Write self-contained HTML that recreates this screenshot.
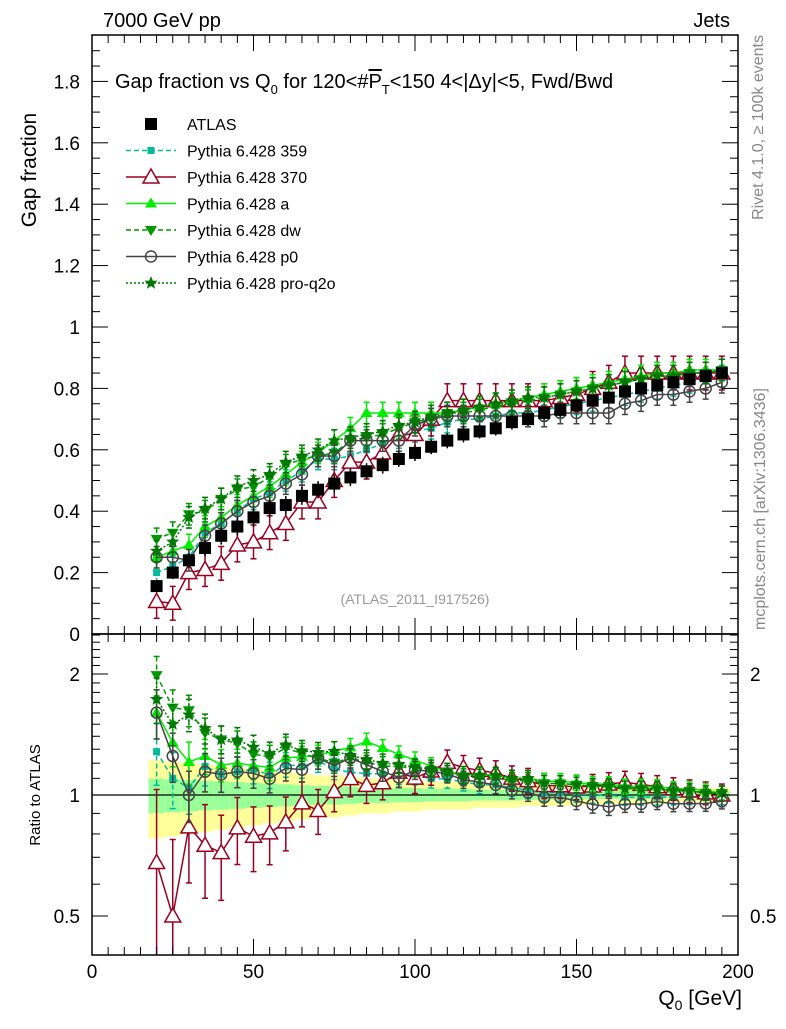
<!DOCTYPE html>
<html><head><meta charset="utf-8"><style>
body{margin:0;background:#fff}
svg{font-family:"Liberation Sans",sans-serif}
</style></head><body>
<svg id="c" width="786" height="1024" viewBox="0 0 786 1024">
<text x="103" y="27" font-size="20">7000 GeV pp</text>
<text x="730" y="27" font-size="20" text-anchor="end">Jets</text>
<text transform="translate(763,35) rotate(-90)" font-size="16" fill="#888" text-anchor="end">Rivet 4.1.0, ≥ 100k events</text>
<text transform="translate(765,630) rotate(-90)" font-size="16" fill="#888">mcplots.cern.ch [arXiv:1306.3436]</text>
<text transform="translate(36,170) rotate(-90)" font-size="21" text-anchor="middle">Gap fraction</text>
<text transform="translate(40,795) rotate(-90)" font-size="15" text-anchor="middle">Ratio to ATLAS</text>
<text x="742" y="1005" font-size="21" text-anchor="end">Q<tspan font-size="14" dy="5">0</tspan><tspan dy="-5"> [GeV]</tspan></text>
<text x="415" y="604" font-size="14" fill="#999" text-anchor="middle">(ATLAS_2011_I917526)</text>
<text x="115" y="88" font-size="20">Gap fraction vs Q<tspan font-size="13" dy="6">0</tspan><tspan dy="-6"> for 120&lt;#</tspan><tspan text-decoration="overline">P</tspan><tspan font-size="13" dy="6">T</tspan><tspan dy="-6">&lt;150  4&lt;|Δy|&lt;5, Fwd/Bwd</tspan></text>
<g id="g"></g>
</svg>
<script>
const xs=[20,25,30,35,40,45,50,55,60,65,70,75,80,85,90,95,100,105,110,115,120,125,130,135,140,145,150,155,160,165,170,175,180,185,190,195];
const atlas=[0.156,0.20,0.24,0.28,0.32,0.35,0.38,0.41,0.42,0.45,0.47,0.49,0.51,0.53,0.55,0.57,0.59,0.61,0.63,0.65,0.66,0.67,0.69,0.70,0.72,0.73,0.745,0.76,0.77,0.79,0.80,0.81,0.82,0.83,0.84,0.85];
const atlasRelErr=[0.22,0.21,0.2,0.19,0.18,0.17,0.16,0.15,0.14,0.13,0.12,0.12,0.11,0.1,0.1,0.09,0.09,0.08,0.08,0.08,0.07,0.07,0.07,0.06,0.06,0.06,0.06,0.05,0.05,0.05,0.05,0.05,0.04,0.04,0.04,0.04];
const s359=[0.20,0.22,0.25,0.33,0.36,0.40,0.44,0.46,0.50,0.53,0.57,0.57,0.58,0.60,0.62,0.64,0.66,0.67,0.69,0.70,0.70,0.71,0.72,0.72,0.73,0.74,0.75,0.76,0.77,0.78,0.79,0.80,0.81,0.82,0.83,0.84];
const s370=[0.106,0.10,0.20,0.21,0.23,0.29,0.30,0.33,0.36,0.43,0.43,0.50,0.56,0.56,0.59,0.65,0.65,0.70,0.76,0.76,0.76,0.76,0.76,0.76,0.76,0.77,0.78,0.80,0.82,0.85,0.85,0.85,0.85,0.85,0.85,0.85];
const sA=[0.25,0.27,0.29,0.35,0.38,0.42,0.45,0.48,0.52,0.56,0.59,0.63,0.67,0.72,0.72,0.72,0.72,0.72,0.72,0.73,0.74,0.75,0.76,0.77,0.78,0.79,0.80,0.81,0.82,0.83,0.84,0.85,0.85,0.86,0.86,0.86];
const sDW=[0.31,0.33,0.39,0.40,0.44,0.47,0.48,0.51,0.55,0.57,0.58,0.59,0.63,0.64,0.65,0.67,0.69,0.70,0.72,0.72,0.73,0.74,0.75,0.76,0.77,0.78,0.79,0.80,0.81,0.82,0.83,0.84,0.84,0.85,0.85,0.86];
const sP0=[0.25,0.25,0.24,0.32,0.36,0.40,0.43,0.45,0.49,0.52,0.58,0.58,0.63,0.63,0.63,0.63,0.68,0.70,0.71,0.71,0.71,0.71,0.71,0.71,0.71,0.72,0.72,0.72,0.72,0.75,0.76,0.78,0.78,0.79,0.80,0.82];
const sQ2O=[0.27,0.30,0.38,0.41,0.44,0.48,0.50,0.52,0.56,0.58,0.60,0.63,0.64,0.65,0.66,0.68,0.69,0.71,0.72,0.73,0.74,0.75,0.76,0.77,0.77,0.78,0.79,0.80,0.81,0.82,0.83,0.84,0.84,0.85,0.85,0.86];
const mainTicks=[0,0.2,0.4,0.6,0.8,1,1.2,1.4,1.6,1.8];
const mainTickLabels=["0","0.2","0.4","0.6","0.8","1","1.2","1.4","1.6","1.8"];
const ratioTicks=[0.5,1,2];
const ratioTickLabels=["0.5","1","2"];
const xTicks=[0,50,100,150,200];
const xTickLabels=["0","50","100","150","200"];

const L=92,R=738,T=35,M=634,B=955;
const X=v=>L+(R-L)*v/200;
const Y=v=>M-307*v;
const RY=v=>795-121*Math.log2(v);
const NS="http://www.w3.org/2000/svg";
const g=document.getElementById('g');
function el(t,a,p){const e=document.createElementNS(NS,t);for(const k in a)e.setAttribute(k,a[k]);(p||g).appendChild(e);return e;}
const clipM=el('clipPath',{id:'cm'});el('rect',{x:L,y:T,width:R-L,height:M-T},clipM);
const clipR=el('clipPath',{id:'cr'});el('rect',{x:L,y:M,width:R-L,height:B-M},clipR);
// bands
const band=el('g',{'clip-path':'url(#cr)'});


xs.forEach((x,i)=>{const e=atlasRelErr[i];
 const r1=el('rect',{x:X(x-2.5),width:X(5)-L,y:RY(1+e),height:RY(1-e)-RY(1+e),fill:'#ffff99'},band);
 const r2=el('rect',{x:X(x-2.5),width:X(5)-L,y:RY(1+e*0.45),height:RY(1-e*0.45)-RY(1+e*0.45),fill:'#99ff99'},band);});
el('line',{x1:L,x2:R,y1:RY(1),y2:RY(1),stroke:'#000','stroke-width':1.3});
const series=[
 {name:'pythia-359',v:s359,c:'#00bb99',d:'5,3',m:'sqs',err:0.035},
 {name:'pythia-370',v:s370,c:'#990022',d:'',m:'tri',err:0.055},
 {name:'pythia-a',v:sA,c:'#00ee00',d:'',m:'triF',err:0.035},
 {name:'pythia-dw',v:sDW,c:'#009900',d:'5,3',m:'itri',err:0.035},
 {name:'pythia-p0',v:sP0,c:'#444',d:'',m:'circ',err:0.035},
 {name:'pythia-pro-q2o',v:sQ2O,c:'#007700',d:'2,2',m:'star',err:0.035}];
function marker(m,x,y,c,p){
 if(m=='sq')return el('rect',{x:x-6,y:y-6,width:12,height:12,fill:'#000'},p);
 if(m=='sqs')return el('rect',{x:x-3.5,y:y-3.5,width:7,height:7,fill:c},p);
 if(m=='tri')return el('polygon',{points:`${x},${y-8} ${x-8},${y+6} ${x+8},${y+6}`,fill:'#fff',stroke:c,'stroke-width':1.5},p);
 if(m=='triF')return el('polygon',{points:`${x},${y-6} ${x-6},${y+4} ${x+6},${y+4}`,fill:c},p);
 if(m=='itri')return el('polygon',{points:`${x},${y+6} ${x-6},${y-4} ${x+6},${y-4}`,fill:c},p);
 if(m=='circ')return el('circle',{cx:x,cy:y,r:5.5,fill:'none',stroke:c,'stroke-width':1.5},p);
 let pts=[];for(let k=0;k<10;k++){const a=-Math.PI/2+k*Math.PI/5,r=k%2?3:7;pts.push((x+r*Math.cos(a)).toFixed(1)+','+(y+r*Math.sin(a)).toFixed(1));}
 return el('polygon',{points:pts.join(' '),fill:c},p);
}
function drawSeries(s,panel){
 const grp=el('g',{'clip-path':panel?'url(#cr)':'url(#cm)'});
 
 
 const vy=(i)=>panel?RY(s.v[i]/atlas[i]):Y(s.v[i]);
 const eh=(i,sg)=>panel?RY((s.v[i]+sg*s.err)/atlas[i]):Y(s.v[i]+sg*s.err);
 xs.forEach((x,i)=>{
  el('line',{x1:X(x),x2:X(x),y1:eh(i,1),y2:eh(i,-1),stroke:s.c,'stroke-width':1.5,'stroke-dasharray':s.d},grp);
  [1,-1].forEach(sg=>el('line',{x1:X(x)-3,x2:X(x)+3,y1:eh(i,sg),y2:eh(i,sg),stroke:s.c,'stroke-width':1.5},grp));});
 el('polyline',{points:xs.map((x,i)=>X(x)+','+vy(i)).join(' '),fill:'none',stroke:s.c,'stroke-width':1.5,'stroke-dasharray':s.d},grp);
 xs.forEach((x,i)=>marker(s.m,X(x),vy(i),s.c,grp));
}
series.forEach(s=>drawSeries(s,false));
const dg=el('g',{'clip-path':'url(#cm)'});


xs.forEach((x,i)=>{const e=atlas[i]*atlasRelErr[i]*0.5;
 el('line',{x1:X(x),x2:X(x),y1:Y(atlas[i]+e),y2:Y(atlas[i]-e),stroke:'#000','stroke-width':1.5},dg);
 marker('sq',X(x),Y(atlas[i]),'#000',dg);});
series.forEach(s=>drawSeries(s,true));
// frames
el('rect',{x:L,y:T,width:R-L,height:M-T,fill:'none',stroke:'#000','stroke-width':1.5});
el('rect',{x:L,y:M,width:R-L,height:B-M,fill:'none',stroke:'#000','stroke-width':1.5});
// x ticks
for(let v=0;v<=200;v+=5){const big=v%50==0,len=big?16:8;
 [M,B].forEach(b=>el('line',{x1:X(v),x2:X(v),y1:b,y2:b-len,stroke:'#000','stroke-width':1}));
 [T,M].forEach(t=>el('line',{x1:X(v),x2:X(v),y1:t,y2:t+len,stroke:'#000','stroke-width':1}));}
xTicks.forEach((v,i)=>{const t=el('text',{x:X(v),y:978,'font-size':19,'text-anchor':'middle'});t.textContent=xTickLabels[i];
 
 });
// main y ticks
for(let v=0;v<=1.95;v+=0.05){const big=Math.abs(v*5-Math.round(v*5))<1e-6,len=big?16:8;
 el('line',{x1:L,x2:L+len,y1:Y(v),y2:Y(v),stroke:'#000'});el('line',{x1:R,x2:R-len,y1:Y(v),y2:Y(v),stroke:'#000'});}
mainTicks.forEach((v,i)=>{const t=el('text',{x:80,y:Y(v)+7,'font-size':19,'text-anchor':'end'});t.textContent=mainTickLabels[i];
 
 });
// ratio ticks
[0.5,0.6,0.7,0.8,0.9,1,1.1,1.2,1.3,1.4,1.5,1.6,1.7,1.8,1.9,2,2.1,2.2,2.3,2.4,2.5].forEach(v=>{const big=ratioTicks.includes(v),len=big?16:8;
 el('line',{x1:L,x2:L+len,y1:RY(v),y2:RY(v),stroke:'#000'});el('line',{x1:R,x2:R-len,y1:RY(v),y2:RY(v),stroke:'#000'});});
ratioTicks.forEach((v,i)=>{[[80,'end'],[750,'start']].forEach(([x,a])=>{const t=el('text',{x:x,y:RY(v)+7,'font-size':19,'text-anchor':a});t.textContent=ratioTickLabels[i];
 
 });});
// legend
const leg=[['ATLAS','#000','','sq']].concat(series.map(s=>[{'pythia-359':'Pythia 6.428 359','pythia-370':'Pythia 6.428 370','pythia-a':'Pythia 6.428 a','pythia-dw':'Pythia 6.428 dw','pythia-p0':'Pythia 6.428 p0','pythia-pro-q2o':'Pythia 6.428 pro-q2o'}[s.name],s.c,s.d,s.m]));
leg.forEach((l,i)=>{const y=124+i*26.5;const lg=el('g',{});
 
 
 if(i>0)el('line',{x1:126,x2:176,y1:y,y2:y,stroke:l[1],'stroke-width':1.5,'stroke-dasharray':l[2]},lg);
 marker(l[3],151,y,l[1],lg);
 const t=el('text',{x:187,y:y+6,'font-size':16},lg);t.textContent=l[0];});
</script>
</body></html>
